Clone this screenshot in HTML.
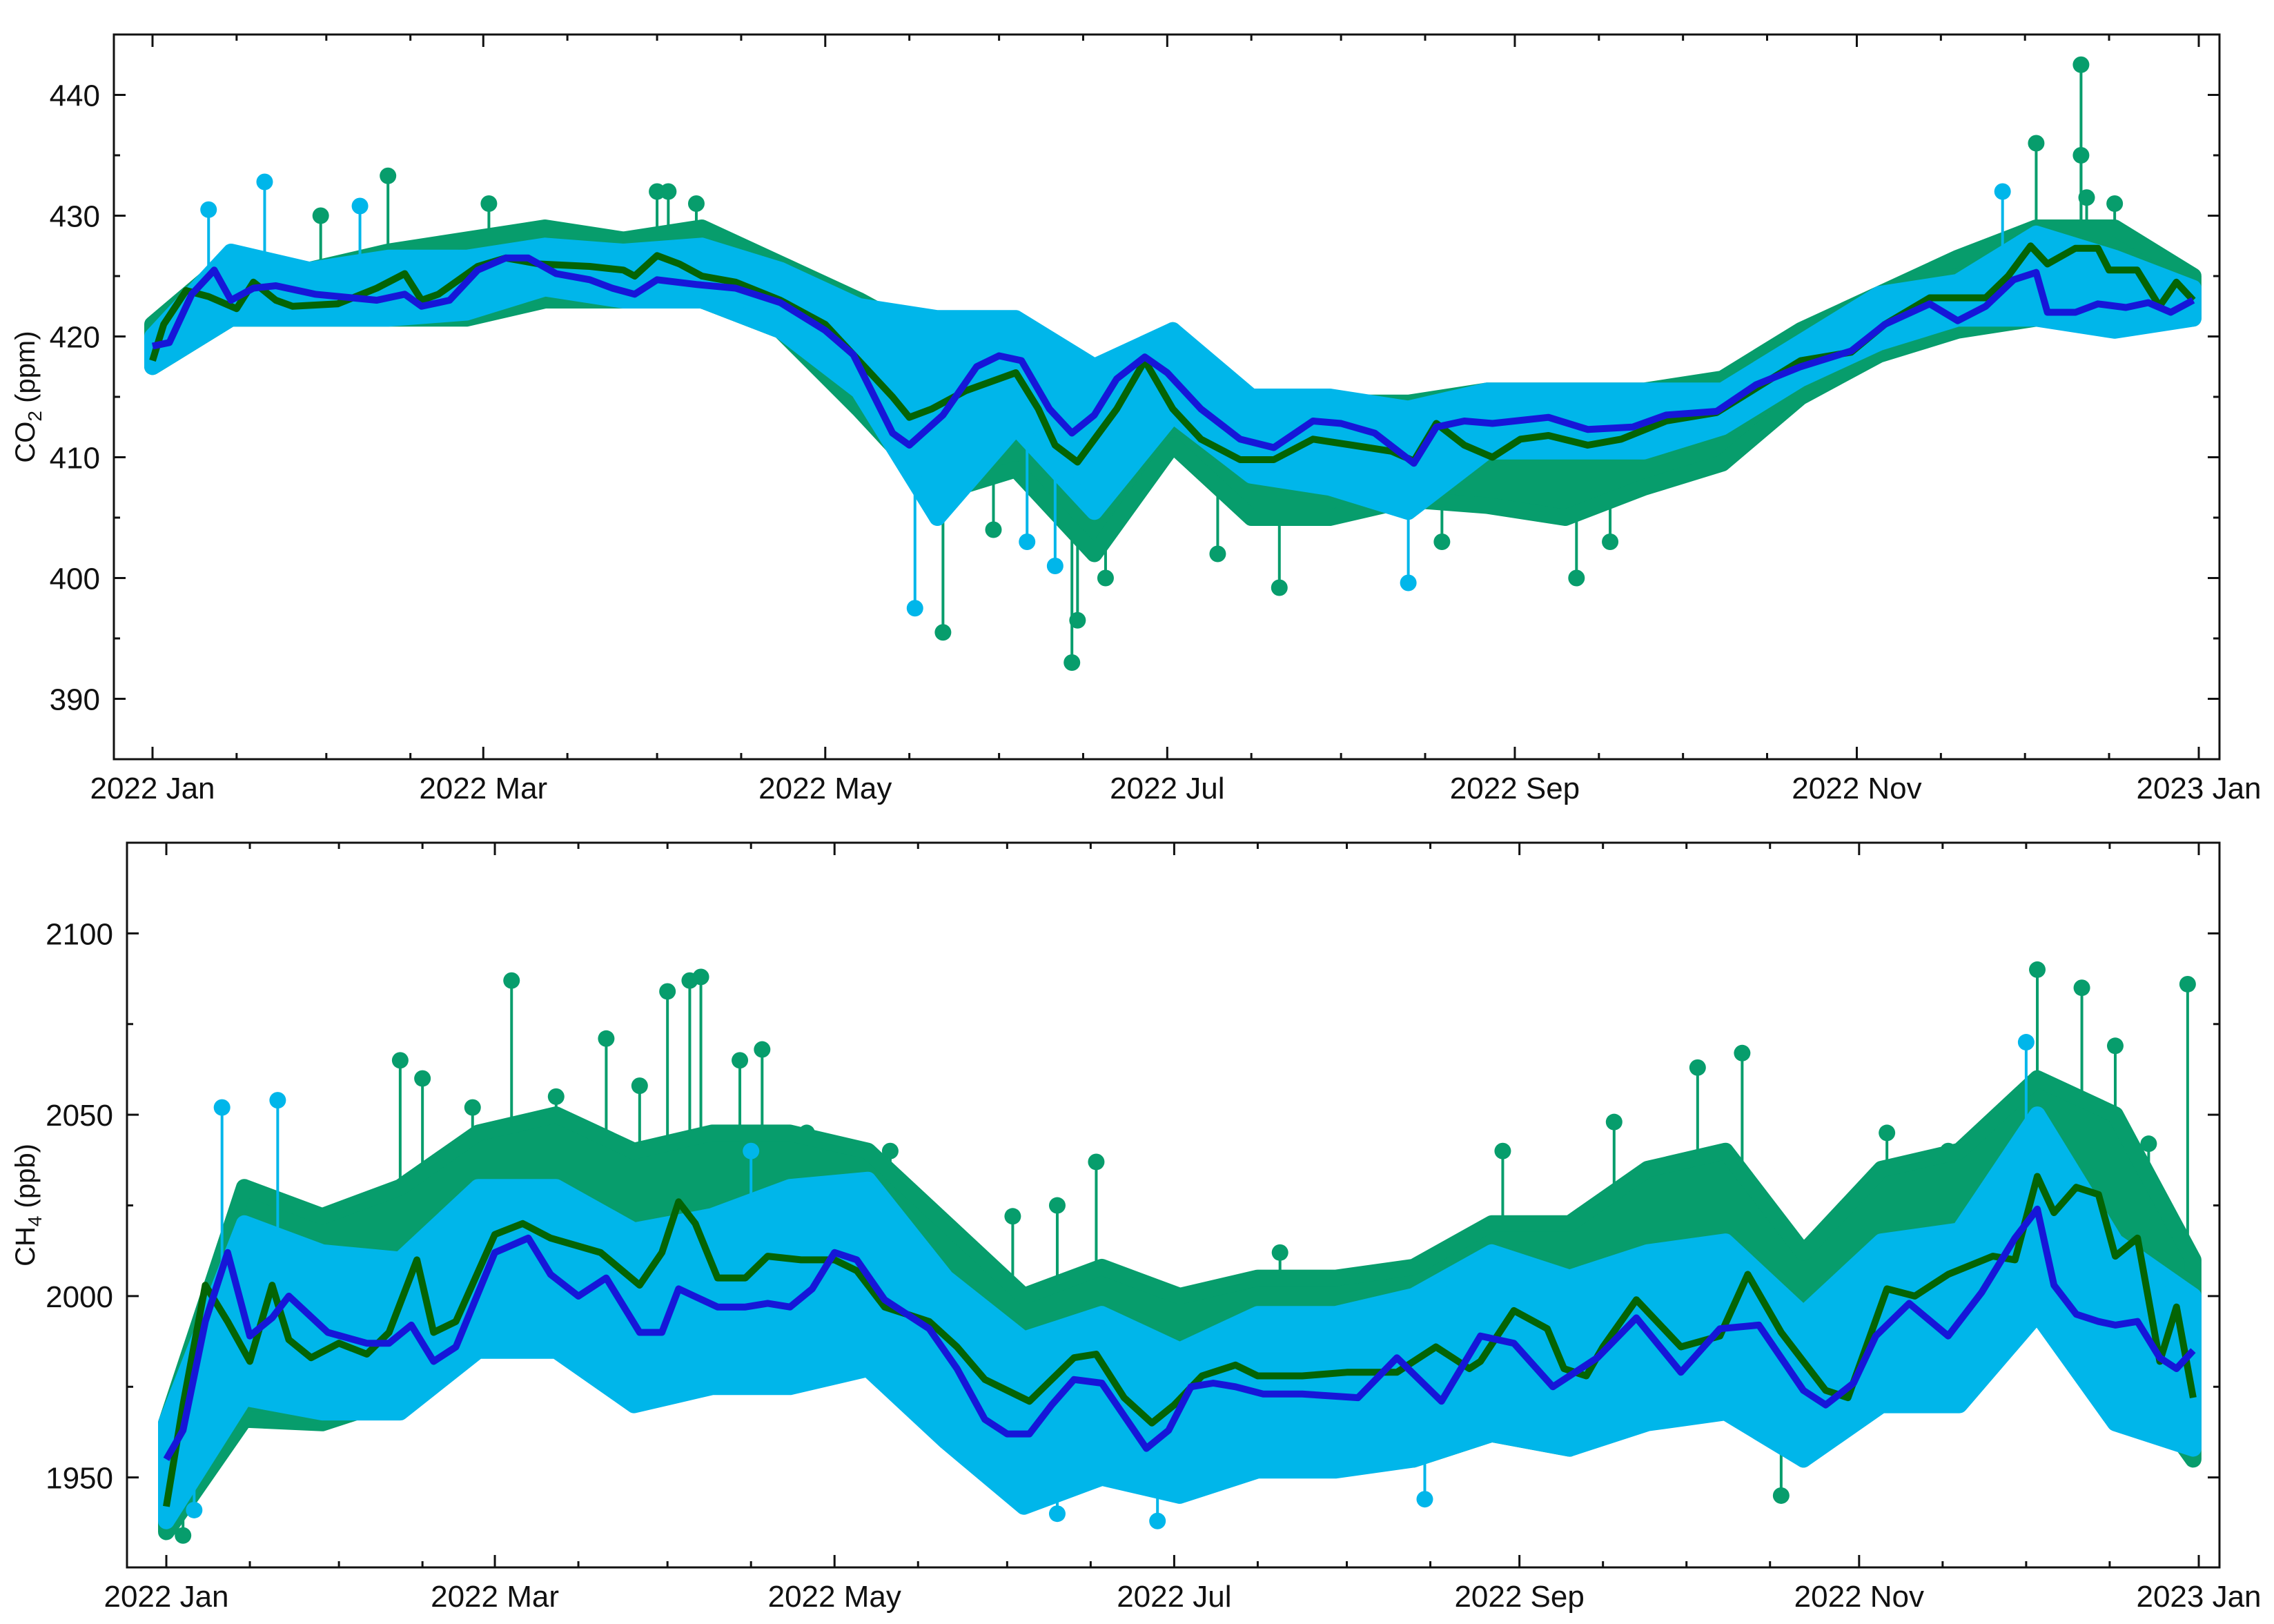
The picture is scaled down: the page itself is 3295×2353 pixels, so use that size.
<!DOCTYPE html>
<html><head><meta charset="utf-8"><style>
html,body{margin:0;padding:0;background:#fff}
svg{display:block}
text{font-family:"Liberation Sans",sans-serif;fill:#111}
</style></head><body>
<svg id="chart" width="3295" height="2353" viewBox="0 0 3295 2353" xmlns="http://www.w3.org/2000/svg"></svg>
<script>
// ---------- CO2 panel data ----------
const co2GreenDays=[0,2,6,10,15,18,22,25,33,40,45,48,51,58,63,69,78,84,86,90,94,98,104,112,120,126,132,135,139,145,154,158,161,165,172,177,182,187,194,200,207,214,221,225,229,234,239,244,249,256,262,270,279,287,294,303,309,317,327,331,335,338,343,347,349,354,358,361,364];
const co2GreenVals=[418,421,423.8,423.3,422.3,424.5,423,422.5,422.7,424,425.2,423,423.5,425.8,426.5,426,425.8,425.5,425,426.7,426,425,424.5,423,421,418,415,413.3,414,415.5,417,414,411,409.6,414,418,414,411.5,409.8,409.8,411.5,411,410.5,409.7,412.8,411,410,411.5,411.8,411,411.5,413,413.7,416,418,418.7,421,423.2,423.2,425,427.5,426,427.3,427.3,425.5,425.5,422.5,424.5,423];
const co2BlueDays=[0,3,7,11,14,18,22,29,40,45,48,53,58,63,67,72,78,82,86,90,97,104,112,120,125,132,135,141,147,151,155,160,164,168,172,177,181,187,194,200,207,212,218,225,229,234,239,249,256,264,270,279,286,294,303,309,317,322,327,332,336,338,343,347,352,356,360,364];
const co2BlueVals=[419.2,419.5,423.5,425.5,423,424,424.2,423.5,423,423.5,422.5,423,425.5,426.5,426.5,425.2,424.7,424,423.5,424.7,424.3,424,422.8,420.5,418.5,412,411,413.5,417.5,418.4,418,414,412,413.5,416.5,418.3,417,414,411.5,410.8,413,412.8,412,409.5,412.5,413,412.8,413.3,412.3,412.5,413.5,413.8,416,417.5,418.8,421,422.7,421.3,422.5,424.7,425.3,422,422,422.7,422.4,422.8,422,423];
const binDays=[0,14,28,42,56,70,84,98,112,126,140,154,168,182,196,210,224,238,252,266,280,294,308,322,336,350,364];
const co2GreenHi=[421,426.5,425.5,427,428,429,428,429,426,423,419.5,420,416.5,420.5,414,414.5,414.5,415.5,415.5,415.5,416.5,420.5,423.5,426.5,429,429,425];
const co2GreenLo=[417.5,421.5,421.5,421.5,421.5,423,423,423,420.5,414,407,409,402,411,405,405,406.5,406,405,407.5,409.5,415,418.5,420.5,421.5,421.5,421.5];
const co2CyanHi=[420,427,425.5,426.5,426.5,427.5,427,427.5,425.5,422.5,421.5,421.5,417.5,420.5,415,415,414,415.5,415.5,415.5,415.5,419.5,423.5,424.5,428.5,426.5,424];
const co2CyanLo=[417.5,421.5,421.5,421.5,422,424,423,423,420.5,415.5,405,412.5,405.5,413.5,408.5,407.5,405.5,410.5,410.5,410.5,412.5,416.5,419.5,421.5,421.5,420.5,421.5];
const co2GreenSpikeDays=[42,90,92,141,164,165,201,254,336,344,344,30,60,97,150,170,190,230,260,345,350];
const co2GreenSpikeVals=[433.3,432,432,395.5,393,396.5,399.2,400,436,442.5,435,430,431,431,404,400,402,403,403,431.5,431];
const co2CyanSpikeDays=[20,37,136,161,224,10,156,330];
const co2CyanSpikeVals=[432.8,430.8,397.5,401,399.6,430.5,403,432];
// ---------- CH4 panel data ----------
const ch4GreenDays=[0,3,7,11,15,19,22,26,31,36,40,45,48,52,59,64,69,78,85,89,92,95,99,104,108,114,120,124,129,137,142,147,155,163,167,172,177,181,186,192,196,204,212,221,228,231,234,236,242,248,251,255,258,264,272,279,284,290,298,302,309,314,320,328,332,336,339,343,347,350,354,358,361,364];
const ch4GreenVals=[1942,1970,2003,1993,1982,2003,1988,1983,1987,1984,1990,2010,1990,1993,2017,2020,2016,2012,2003,2012,2026,2020,2005,2005,2011,2010,2010,2007,1997,1993,1986,1977,1971,1983,1984,1972,1965,1970,1978,1981,1978,1978,1979,1979,1986,1983,1980,1982,1996,1991,1980,1978,1986,1999,1986,1989,2006,1990,1974,1972,2002,2000,2006,2011,2010,2033,2023,2030,2028,2011,2016,1982,1997,1972];
const ch4BlueDays=[0,3,7,11,15,19,22,29,36,40,44,48,52,59,65,69,74,79,85,89,92,99,104,108,112,116,120,124,129,137,142,147,151,155,159,163,168,172,176,180,184,188,192,197,204,214,221,229,236,242,249,257,264,272,279,286,294,298,303,307,313,320,326,332,336,339,343,347,350,354,358,361,364];
const ch4BlueVals=[1955,1963,1993,2012,1989,1994,2000,1990,1987,1987,1992,1982,1986,2012,2016,2006,2000,2005,1990,1990,2002,1997,1997,1998,1997,2002,2012,2010,1999,1991,1980,1966,1962,1962,1970,1977,1976,1967,1958,1963,1975,1976,1975,1973,1973,1972,1983,1971,1989,1987,1975,1983,1994,1979,1991,1992,1974,1970,1976,1989,1998,1989,2001,2016,2024,2003,1995,1993,1992,1993,1983,1980,1985];
const ch4GreenHi=[1965,2030,2022,2030,2045,2050,2040,2045,2045,2040,2020,2000,2008,2000,2005,2005,2008,2020,2020,2035,2040,2012,2035,2040,2060,2050,2010];
const ch4GreenLo=[1935,1966,1965,1972,1992,1992,1982,1982,1985,1980,1965,1950,1958,1948,1955,1955,1955,1962,1958,1970,1975,1955,1978,1982,2005,1985,1955];
const ch4CyanHi=[1965,2020,2012,2010,2030,2030,2018,2022,2030,2032,2005,1988,1995,1985,1995,1995,2000,2012,2005,2012,2015,1995,2015,2018,2050,2015,2000];
const ch4CyanLo=[1938,1972,1968,1968,1985,1985,1970,1975,1975,1980,1960,1942,1950,1945,1952,1952,1955,1962,1958,1965,1968,1955,1970,1970,1995,1965,1958];
const ch4GreenSpikeDays=[42,46,62,79,90,94,96,103,107,152,167,283,336,344,363,290,309,3,55,70,85,115,130,160,200,240,260,275,320,350,356];
const ch4GreenSpikeVals=[2065,2060,2087,2071,2084,2087,2088,2065,2068,2022,2037,2067,2090,2085,2086,1945,2045,1934,2052,2055,2058,2045,2040,2025,2012,2040,2048,2063,2040,2069,2042];
const ch4CyanSpikeDays=[10,20,5,334,178,105,226,160];
const ch4CyanSpikeVals=[2052,2054,1941,2070,1938,2040,1944,1940];
// ---------- axes config ----------
const monthStarts=[0,31,59,90,120,151,181,212,243,273,304,334,365];
const monthLabels=["2022 Jan","2022 Mar","2022 May","2022 Jul","2022 Sep","2022 Nov","2023 Jan"];
const co2Ticks=[390,400,410,420,430,440];
const ch4Ticks=[1950,2000,2050,2100];

const NS="http://www.w3.org/2000/svg";
const svg=document.getElementById('chart');
function mk(tag,attrs,parent){const e=document.createElementNS(NS,tag);for(const k in attrs)e.setAttribute(k,attrs[k]);(parent||svg).appendChild(e);return e;}

function panel(cfg){
  const g=mk('g',{});
  
  
  const X=d=>cfg.x0+(d/365)*(cfg.x1-cfg.x0);
  const Y=v=>cfg.top+(cfg.ymax-v)/(cfg.ymax-cfg.ymin)*(cfg.bottom-cfg.top);
  const clip='clip-'+cfg.name;
  const cp=mk('clipPath',{id:clip},g);
  mk('rect',{x:cfg.left+2,y:cfg.top+2,width:cfg.right-cfg.left-4,height:cfg.bottom-cfg.top-4},cp);
  const data=mk('g',{'clip-path':'url(#'+clip+')'},g);
  function band(hi,lo,col,nm){
    let d='M'+binDays.map((b,i)=>X(b).toFixed(1)+','+Y(hi[i]).toFixed(1)).join('L');
    for(let i=binDays.length-1;i>=0;i--)d+='L'+X(binDays[i]).toFixed(1)+','+Y(lo[i]).toFixed(1);
    d+='Z';
    const p=mk('path',{d:d,fill:col,stroke:col,'stroke-width':24,'stroke-linejoin':'round'},data);
    
    
  }
  function spikes(days,vals,col,nm,base){
    days.forEach((d,i)=>{
      const bv=base(d);
      const l=mk('line',{x1:X(d),x2:X(d),y1:Y(bv),y2:Y(vals[i]),stroke:col,'stroke-width':4},data);
      
      
      const c=mk('circle',{cx:X(d),cy:Y(vals[i]),r:12,fill:col},data);
      
      
    });
  }
  function interp(days,vals,d){for(let i=1;i<days.length;i++){if(d<=days[i]){const t=(d-days[i-1])/(days[i]-days[i-1]);return vals[i-1]+t*(vals[i]-vals[i-1]);}}return vals[vals.length-1];}
  function line(days,vals,col,nm){
    const p=mk('polyline',{points:days.map((d,i)=>X(d).toFixed(1)+','+Y(vals[i]).toFixed(1)).join(' '),fill:'none',stroke:col,'stroke-width':10,'stroke-linejoin':'round'},data);
    
    
  }
  spikes(cfg.gSD,cfg.gSV,'#079d6c','green-raw',d=>interp(cfg.gDays,cfg.gVals,d));
  band(cfg.gHi,cfg.gLo,'#079d6c','green-raw');
  spikes(cfg.cSD,cfg.cSV,'#00b6ea','cyan-raw',d=>interp(cfg.bDays,cfg.bVals,d));
  band(cfg.cHi,cfg.cLo,'#00b6ea','cyan-raw');
  line(cfg.gDays,cfg.gVals,'#046404','green-smoothed-line');
  line(cfg.bDays,cfg.bVals,'#1616d8','blue-smoothed-line');
  const fr=mk('rect',{x:cfg.left,y:cfg.top,width:cfg.right-cfg.left,height:cfg.bottom-cfg.top,fill:'none',stroke:'#111','stroke-width':3},g);
  
  
  monthStarts.forEach((m,i)=>{
    const major=i%2===0;
    [m, i<12? m+15:null].forEach((d,k)=>{
      if(d===null)return;
      const len=(k===0&&major)?18:9;
      const x=X(d);
      mk('line',{x1:x,x2:x,y1:cfg.bottom,y2:cfg.bottom-len,stroke:'#111','stroke-width':3},g);
      mk('line',{x1:x,x2:x,y1:cfg.top,y2:cfg.top+len,stroke:'#111','stroke-width':3},g);
    });
    if(major){
      const t=mk('text',{x:X(m),y:cfg.bottom+57,'text-anchor':'middle','font-size':44},g);
      t.textContent=monthLabels[i/2];
      
      
    }
  });
  const step=cfg.ticks[1]-cfg.ticks[0];
  for(let v=cfg.ticks[0]-step/2;v<=cfg.ymax;v+=step/2){
    if(v<cfg.ymin)continue;
    const major=cfg.ticks.includes(v);
    const len=major?17:9;const y=Y(v);
    mk('line',{x1:cfg.left,x2:cfg.left+len,y1:y,y2:y,stroke:'#111','stroke-width':3},g);
    mk('line',{x1:cfg.right,x2:cfg.right-len,y1:y,y2:y,stroke:'#111','stroke-width':3},g);
  }
  cfg.ticks.forEach(v=>{
    const t=mk('text',{x:cfg.left-20,y:Y(v)+16,'text-anchor':'end','font-size':44},g);
    t.textContent=v;
    
    
  });
  const cy=(cfg.top+cfg.bottom)/2;
  const tt=mk('text',{x:0,y:0,'text-anchor':'middle','font-size':40,transform:'translate(50,'+cy+') rotate(-90)'},g);
  tt.innerHTML=cfg.title+'<tspan font-size="28" dy="10">'+cfg.sub+'</tspan><tspan dy="-10"> '+cfg.unit+'</tspan>';
  
  
}

panel({name:'co2-panel',left:165,right:3216,top:50,bottom:1100,x0:221,x1:3186,ymin:385,ymax:445,ticks:co2Ticks,
  gDays:co2GreenDays,gVals:co2GreenVals,bDays:co2BlueDays,bVals:co2BlueVals,
  gHi:co2GreenHi,gLo:co2GreenLo,cHi:co2CyanHi,cLo:co2CyanLo,
  gSD:co2GreenSpikeDays,gSV:co2GreenSpikeVals,cSD:co2CyanSpikeDays,cSV:co2CyanSpikeVals,
  title:'CO',sub:'2',unit:'(ppm)'});
panel({name:'ch4-panel',left:184,right:3216,top:1221,bottom:2271,x0:241,x1:3186,ymin:1925.2,ymax:2125,ticks:ch4Ticks,
  gDays:ch4GreenDays,gVals:ch4GreenVals,bDays:ch4BlueDays,bVals:ch4BlueVals,
  gHi:ch4GreenHi,gLo:ch4GreenLo,cHi:ch4CyanHi,cLo:ch4CyanLo,
  gSD:ch4GreenSpikeDays,gSV:ch4GreenSpikeVals,cSD:ch4CyanSpikeDays,cSV:ch4CyanSpikeVals,
  title:'CH',sub:'4',unit:'(ppb)'});
</script>
</body></html>
